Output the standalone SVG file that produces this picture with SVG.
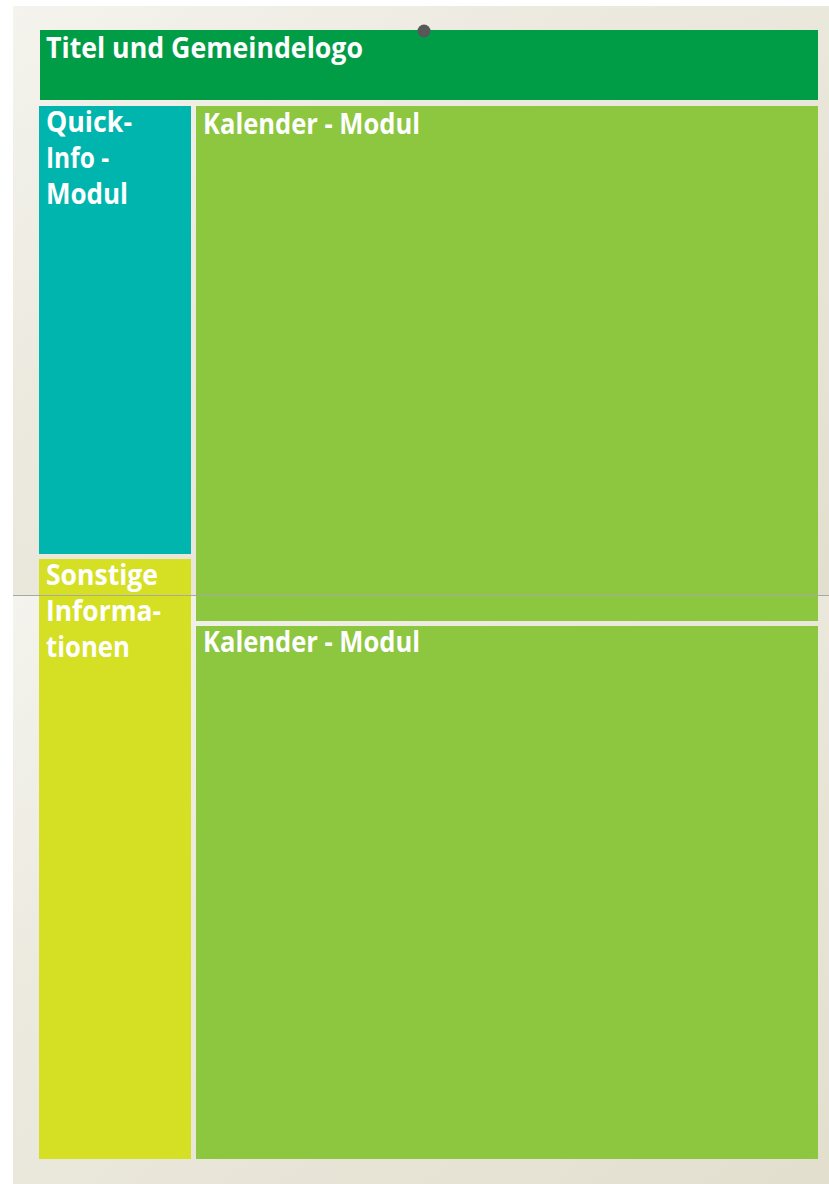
<svg xmlns="http://www.w3.org/2000/svg" width="829" height="1184" viewBox="0 0 829 1184">
<defs>
<linearGradient id="paper" x1="0" y1="0" x2="1" y2="1">
<stop offset="0" stop-color="#f4f3ed"/>
<stop offset="0.35" stop-color="#eceadf"/>
<stop offset="1" stop-color="#e3dfcf"/>
</linearGradient>
<style>
.lbl{font-family:"Open Sans","Liberation Sans",sans-serif;font-weight:700;font-size:28px;fill:#ffffff}
</style>
</defs>
<rect x="0" y="0" width="829" height="1184" fill="#ffffff"/>
<rect x="13" y="6" width="816" height="590" fill="url(#paper)"/>
<rect x="13" y="596" width="816" height="588" fill="url(#paper)"/>
<g id="title">
<rect x="40" y="30" width="778" height="70" fill="#019d46"/>
<text class="lbl" x="46" y="58" textLength="317" lengthAdjust="spacingAndGlyphs">Titel und Gemeindelogo</text>
</g>
<g id="quickinfo">
<rect x="39" y="106" width="152" height="448" fill="#00b5ad"/>
<text class="lbl" x="46" y="132" textLength="86" lengthAdjust="spacingAndGlyphs">Quick-</text>
<text class="lbl" x="46" y="168" textLength="63" lengthAdjust="spacingAndGlyphs">Info -</text>
<text class="lbl" x="46" y="204" textLength="82" lengthAdjust="spacingAndGlyphs">Modul</text>
</g>
<g id="sonstige">
<rect x="39" y="559" width="152" height="600" fill="#d5df23"/>
<text class="lbl" x="46" y="585" textLength="112" lengthAdjust="spacingAndGlyphs">Sonstige</text>
<text class="lbl" x="46" y="621" textLength="115" lengthAdjust="spacingAndGlyphs">Informa-</text>
<text class="lbl" x="46" y="657" textLength="84" lengthAdjust="spacingAndGlyphs">tionen</text>
</g>
<g id="kalender1">
<rect x="196" y="106" width="622" height="515" fill="#8dc63f"/>
<text class="lbl" x="203" y="134" textLength="217" lengthAdjust="spacingAndGlyphs">Kalender - Modul</text>
</g>
<g id="kalender2">
<rect x="196" y="626" width="622" height="533" fill="#8dc63f"/>
<text class="lbl" x="203" y="652" textLength="217" lengthAdjust="spacingAndGlyphs">Kalender - Modul</text>
</g>
<g id="connectors">
<line x1="13" y1="595.5" x2="829" y2="595.5" stroke="#a8a8a8" stroke-width="1"/>
</g>
<circle id="pin" cx="424" cy="31" r="6.5" fill="#58585a"/>
</svg>
